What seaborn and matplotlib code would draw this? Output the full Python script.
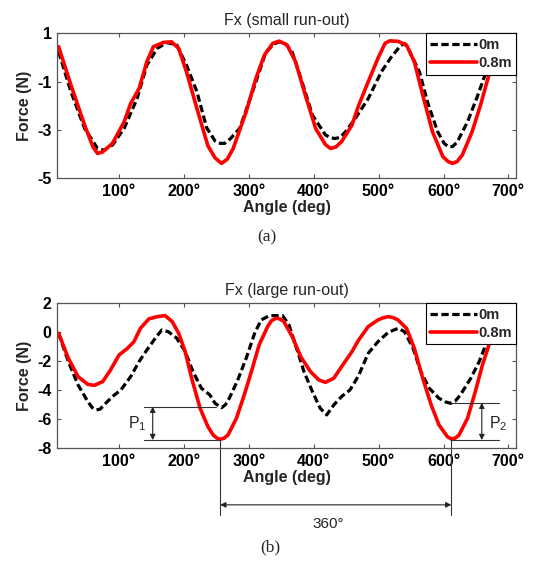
import numpy as np
import pandas as pd
import seaborn as sns
import matplotlib.pyplot as plt
from matplotlib.ticker import FuncFormatter

# (a) small run-out
angle_a_0m = [7, 26, 47, 67, 77, 90, 108, 128, 143, 159, 174, 189, 204, 220, 235, 248, 256, 263, 272,
              286, 306, 326, 338, 347, 357, 367, 382, 398, 418, 426, 433, 441, 449, 464, 484, 504,
              519, 534, 540, 547, 563, 576, 591, 601, 608, 614, 621, 637, 652, 662, 680]
force_a_0m = [0.24, -1.41, -2.93, -3.76, -3.83, -3.62, -2.93, -1.69, -0.31, 0.38, 0.62, 0.52, -0.31,
              -1.41, -2.9, -3.45, -3.55, -3.55, -3.35, -2.93, -1.4, 0.2, 0.55, 0.65, 0.55, 0.22,
              -1.0, -2.38, -3.2, -3.32, -3.35, -3.3, -3.07, -2.52, -1.7, -0.6, 0.0, 0.5, 0.58, 0.3,
              -0.6, -1.9, -3.07, -3.55, -3.7, -3.68, -3.5, -2.66, -1.62, -0.86, 0.3]
angle_a_08m = [7, 26, 47, 60, 67, 75, 90, 108, 118, 131, 143, 153, 169, 181, 192, 204, 220, 237, 248,
               258, 267, 276, 296, 311, 324, 337, 347, 359, 372, 387, 403, 418, 426, 434, 443, 459,
               469, 484, 499, 510, 517, 530, 543, 555, 568, 583, 599, 607, 614, 621, 629, 644, 657,
               667, 680]
force_a_08m = [0.45, -1.14, -2.79, -3.7, -3.97, -3.9, -3.55, -2.66, -1.9, -1.28, -0.17, 0.45, 0.63,
               0.65, 0.38, -0.59, -2.1, -3.65, -4.15, -4.38, -4.2, -3.76, -2.24, -0.86, 0.1, 0.59,
               0.68, 0.52, -0.17, -1.55, -2.93, -3.6, -3.76, -3.7, -3.48, -2.79, -2.0, -1.0, -0.03,
               0.59, 0.69, 0.67, 0.52, -0.17, -1.55, -3.07, -4.1, -4.3, -4.38, -4.3, -4.03, -3.07,
               -1.97, -1.0, 0.2]

# (b) large run-out
angle_b_0m = [7, 22, 37, 52, 59, 65, 71, 77, 90, 103, 118, 131, 143, 156, 166, 176, 189, 202, 214,
              227, 240, 248, 258, 264, 270, 283, 296, 309, 319, 332, 352, 362, 372, 385, 398, 410,
              420, 431, 443, 456, 469, 484, 499, 515, 530, 540, 553, 565, 578, 593, 603, 611, 618,
              626, 642, 655, 662, 680]
force_b_0m = [-0.07, -2.02, -3.63, -4.78, -5.2, -5.36, -5.3, -5.01, -4.43, -3.97, -3.06, -2.02,
              -1.22, -0.41, 0.16, 0.04, -0.41, -1.33, -2.71, -3.86, -4.32, -4.9, -5.2, -5.0, -4.55,
              -3.29, -1.79, -0.07, 0.85, 1.15, 1.15, 0.5, -0.87, -2.71, -4.09, -5.24, -5.7, -5.01,
              -4.43, -3.97, -3.0, -1.45, -0.65, 0.0, 0.27, 0.04, -1.1, -2.71, -3.86, -4.55, -4.8,
              -4.9, -4.75, -4.32, -3.17, -2.02, -1.22, 1.0]
angle_b_08m = [7, 22, 37, 52, 62, 75, 87, 100, 113, 123, 133, 146, 159, 171, 182, 192, 202, 212,
               225, 237, 245, 251, 256, 262, 268, 281, 293, 304, 316, 329, 335, 342, 348, 354, 367,
               380, 395, 408, 418, 431, 443, 459, 469, 484, 499, 507, 515, 522, 530, 543, 555, 568,
               581, 593, 606, 612, 618, 624, 637, 649, 660, 670, 680]
force_b_08m = [-0.07, -1.79, -3.06, -3.59, -3.66, -3.4, -2.6, -1.57, -1.11, -0.65, 0.27, 0.92, 1.08,
               1.15, 0.74, -0.07, -1.33, -3.17, -5.24, -6.5, -7.08, -7.3, -7.38, -7.3, -7.08,
               -5.93, -4.32, -2.71, -0.87, 0.39, 0.8, 0.97, 0.92, 0.74, -0.3, -1.68, -2.71, -3.29,
               -3.45, -3.17, -2.37, -1.33, -0.55, 0.39, 0.85, 1.0, 1.08, 1.02, 0.85, 0.27, -1.1,
               -3.17, -5.01, -6.39, -7.2, -7.36, -7.3, -7.08, -5.93, -4.09, -2.25, -0.87, 0.3]

series_labels = ["0m", "0.8m"]
xticks = [100, 200, 300, 400, 500, 600, 700]

sns.set_style("ticks")
plt.rcParams['font.family'] = ['Liberation Sans', 'DejaVu Sans']
plt.rcParams['axes.unicode_minus'] = False
plt.rcParams['mathtext.fontset'] = 'custom'
plt.rcParams['mathtext.rm'] = 'Liberation Sans'
plt.rcParams['mathtext.it'] = 'Liberation Sans'

spine_col = '#555555'

fig = plt.figure(figsize=(5.33, 5.61), dpi=100)
ax1 = fig.add_axes([0.1075, 0.682, 0.861, 0.2585])
ax2 = fig.add_axes([0.1075, 0.2009, 0.861, 0.2585])


def draw(ax, a0, f0, a8, f8, title, ylim, yticks):
    df0 = pd.DataFrame({'angle': a0, 'force': f0})
    df8 = pd.DataFrame({'angle': a8, 'force': f8})
    sns.lineplot(data=df0, x='angle', y='force', ax=ax, color='black', lw=2.3,
                 linestyle=(0, (2.3, 1.1)), label=series_labels[0],
                 solid_joinstyle='round', dash_joinstyle='round')
    sns.lineplot(data=df8, x='angle', y='force', ax=ax, color='#ff0000', lw=2.6,
                 label=series_labels[1], solid_joinstyle='round')
    ax.set_xlim(5, 712)
    ax.set_ylim(*ylim)
    ax.set_xticks(xticks)
    ax.set_yticks(yticks)
    ax.xaxis.set_major_formatter(FuncFormatter(lambda v, p: f"{v:.0f}°"))
    ax.yaxis.set_major_formatter(FuncFormatter(lambda v, p: f"{v:.0f}"))
    ax.tick_params(direction='in', length=3, width=0.8, colors=spine_col, labelcolor='black',
                   top=True, right=True, labelsize=11.5, pad=4)
    for lab in ax.get_xticklabels() + ax.get_yticklabels():
        lab.set_fontweight('bold')
    for s in ax.spines.values():
        s.set_color(spine_col)
        s.set_linewidth(0.9)
    ax.set_title(title, fontsize=11.5, pad=6)
    ax.set_xlabel("Angle (deg)", fontsize=11.5, fontweight='bold', labelpad=1)
    ax.set_ylabel("Force (N)", fontsize=11.5, fontweight='bold', labelpad=4)
    leg = ax.legend(loc='upper right', borderaxespad=0, fancybox=False, framealpha=1,
                    edgecolor='black', handlelength=3.2, handletextpad=0.1, borderpad=0.3,
                    labelspacing=0.3, prop={'weight': 'bold', 'size': 10.5})
    leg.get_frame().set_linewidth(0.8)
    leg.set_zorder(5)


draw(ax1, angle_a_0m, force_a_0m, angle_a_08m, force_a_08m, "Fx (small run-out)", (-5, 1),
     [1, -1, -3, -5])
draw(ax2, angle_b_0m, force_b_0m, angle_b_08m, force_b_08m, "Fx (large run-out)", (-8, 2),
     [2, 0, -2, -4, -6, -8])

# P1 / P2 markers
line_kw = dict(color='#333333', lw=0.8, clip_on=False)
ax2.plot([138, 250], [-5.13, -5.13], **line_kw)
ax2.plot([138, 256], [-7.43, -7.43], **line_kw)
ax2.plot([611, 685], [-4.86, -4.86], **line_kw)
ax2.plot([612, 685], [-7.43, -7.43], **line_kw)
arr = dict(arrowstyle='<|-|>', color='#222222', lw=0.8, mutation_scale=8, shrinkA=0, shrinkB=0)
ax2.annotate('', xy=(152, -7.43), xytext=(152, -5.13), arrowprops=arr)
ax2.annotate('', xy=(659, -7.43), xytext=(659, -4.86), arrowprops=arr)
ax2.text(128, -6.3, "P$_1$", fontsize=11.5, ha='center', va='center')
ax2.text(684, -6.3, "P$_2$", fontsize=11.5, ha='center', va='center')

# 360 degree span
ax2.plot([256, 256], [-7.43, -12.6], **line_kw)
ax2.plot([612, 612], [-7.36, -12.6], **line_kw)
ax2.annotate('', xy=(256, -11.9), xytext=(612, -11.9), arrowprops=arr, annotation_clip=False)
ax2.text(422, -13.2, "360°", fontsize=11, ha='center', va='center')

fig.text(267 / 533, 1 - 237 / 561, "(a)", fontsize=12.5, ha='center', va='center',
         family='Liberation Serif')
fig.text(270 / 533, 1 - 547 / 561, "(b)", fontsize=12.5, ha='center', va='center',
         family='Liberation Serif')

fig.savefig("out.png", dpi=100)
